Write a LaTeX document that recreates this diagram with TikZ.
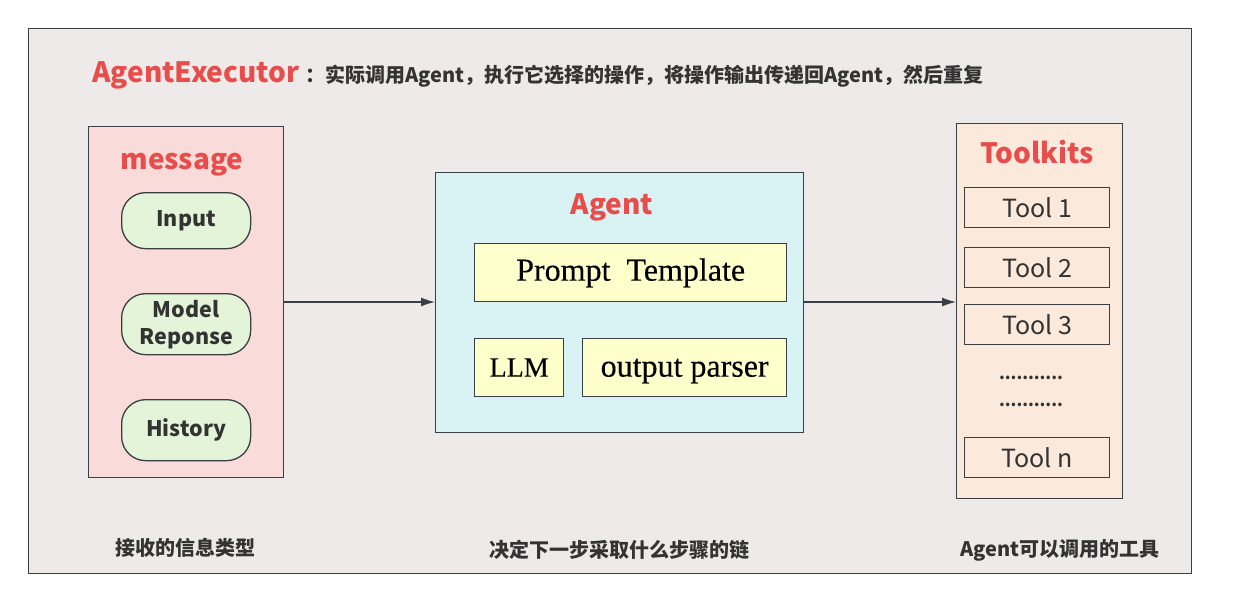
\documentclass[tikz,border=0pt]{standalone}
\usepackage{fontspec}
\setmainfont{Liberation Serif}[FakeBold=0.3]
\newfontfamily\cjk{Noto Sans CJK SC}
\usetikzlibrary{arrows.meta}
\definecolor{frameC}{HTML}{3A3F45}
\definecolor{bgC}{HTML}{EEEAE9}
\definecolor{redC}{HTML}{E84C4B}
\definecolor{msgC}{HTML}{F9DBDA}
\definecolor{agC}{HTML}{D9F3F5}
\definecolor{yelC}{HTML}{FFFFCC}
\definecolor{grnC}{HTML}{E3F4D9}
\definecolor{tkC}{HTML}{FBE9DB}
\definecolor{txtC}{HTML}{333333}
\tikzset{
  panel/.style={draw=frameC, line width=1.3pt, anchor=north west, inner sep=0pt},
  pill/.style={draw=frameC, line width=1.3pt, fill=grnC, rounded corners=24pt, anchor=north west,
    minimum width=129pt, inner sep=0pt, font=\cjk\bfseries\fontsize{21.5}{27}\selectfont, text=txtC, align=center},
  ybox/.style={draw=frameC, line width=1.3pt, fill=yelC, anchor=north west, inner sep=0pt,
    minimum height=58pt, font=\fontsize{32}{34}\selectfont, text height=24pt, text depth=6pt, text=black},
  toolbox/.style={draw=frameC, line width=1.3pt, anchor=north west, inner sep=0pt,
    minimum width=145pt, minimum height=40pt, font=\cjk\fontsize{25}{28}\selectfont, text=txtC},
  ttl/.style={font=\cjk\bfseries\fontsize{28}{30}\selectfont, text=redC},
  captxt/.style={font=\cjk\bfseries\fontsize{20}{24}\selectfont, text=txtC},
  conn/.style={draw=frameC, line width=1.3pt, -{Latex[length=14pt,width=9pt]}}
}
\begin{document}
\begin{tikzpicture}[x=1pt,y=-1pt]
\useasboundingbox (0,0) rectangle (1236,606);
\fill[white] (0,0) rectangle (1236,606);
\node[panel, fill=bgC, minimum width=1163pt, minimum height=545pt] (outer) at (28,28) {};
% title
\node[ttl, anchor=base west, inner sep=0pt] (exec) at (92,82) {AgentExecutor};
\node[captxt, anchor=base west, inner sep=0pt, font=\cjk\bfseries\fontsize{20}{24}\selectfont] (desc) at ([xshift=5pt]exec.base east) {：实际调用Agent，执行它选择的操作，将操作输出传递回Agent，然后重复};
% message panel
\node[panel, fill=msgC, minimum width=195pt, minimum height=351pt] (msg) at (88,126) {};
\node[ttl, anchor=base] (msgt) at (182,169) {message};
\node[pill, minimum height=56pt] (inp) at (121,192) {Input};
\node[pill, minimum height=61pt] (mod) at (121,293) {Model\\Reponse};
\node[pill, minimum height=61pt] (his) at (121,399) {History};
% agent panel
\node[panel, fill=agC, minimum width=368pt, minimum height=260pt] (agent) at (435,172) {};
\node[ttl, anchor=base] (agt) at (612,214) {Agent};
\node[ybox, minimum width=312pt, text height=22pt] (pt) at (474,243) {Prompt\ \ Template};
\node[ybox, minimum width=89pt, font=\fontsize{28}{30}\selectfont] (llm) at (474,338) {LLM};
\node[ybox, minimum width=204pt] (op) at (582,338) {output parser};
% toolkits panel
\node[panel, fill=tkC, minimum width=166pt, minimum height=375pt] (tk) at (956,123) {};
\node[ttl, anchor=base] (tkt) at (1037,163) {Toolkits};
\node[toolbox] (t1) at (964,187) {Tool 1};
\node[toolbox] (t2) at (964,247) {Tool 2};
\node[toolbox] (t3) at (964,304) {Tool 3};
\node[font=\cjk\bfseries\fontsize{16.5}{18}\selectfont, text=txtC, inner sep=0pt] (d1) at (1031,378) {...........};
\node[font=\cjk\bfseries\fontsize{16.5}{18}\selectfont, text=txtC, inner sep=0pt] (d2) at (1031,405) {...........};
\node[toolbox] (tn) at (964,437) {Tool n};
% connectors
\draw[conn] (msg.east |- 0,302) -- (agent.west |- 0,302);
\draw[conn] (agent.east |- 0,302) -- (tk.west |- 0,302);
% captions
\node[captxt] (c1) at (185,548) {接收的信息类型};
\node[captxt] (c2) at (619,550) {决定下一步采取什么步骤的链};
\node[captxt] (c3) at (1060,550) {Agent可以调用的工具};
\end{tikzpicture}
\end{document}
